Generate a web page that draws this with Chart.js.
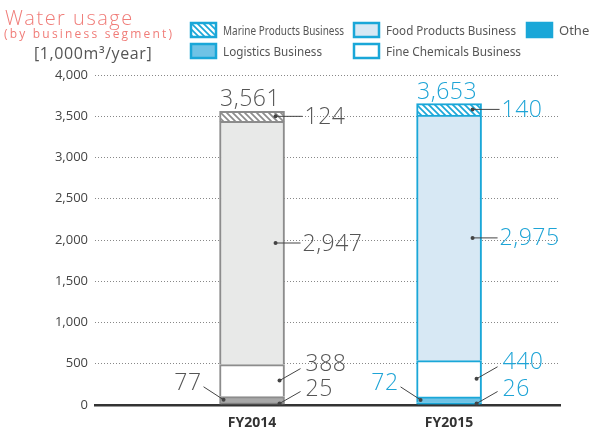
<!DOCTYPE html>
<html>
<head>
<meta charset="utf-8">
<script src="https://cdn.jsdelivr.net/npm/chart.js@4.4.1/dist/chart.umd.min.js"></script>
<style>
  html, body { margin: 0; padding: 0; background: #fff; }
  #wrap { position: relative; width: 589px; height: 432px; }
</style>
</head>
<body>
<div id="wrap"><canvas id="grafico" width="589" height="432"></canvas></div>
<script>
// data
const anos = ['FY2014', 'FY2015'];
const segmentos = ['Others', 'Logistics Business', 'Fine Chemicals Business', 'Food Products Business', 'Marine Products Business'];
const others = [25, 26];
const logistics = [77, 72];
const fineChem = [388, 440];
const food = [2947, 2975];
const marine = [124, 140];
const totais = [3561, 3653];
const yTicks = [0, 500, 1000, 1500, 2000, 2500, 3000, 3500, 4000];

const cinza = '#8c8c8c';
const azul = '#1aa7d8';
const txtCinza = '#555555';
const txtAzul = '#1ea4d6';
const fonte = '"Noto Sans", sans-serif';
const fonteNum = '"Open Sans", "Noto Sans", sans-serif';

function hachura(cor) {
    const c = document.createElement('canvas');
    c.width = 6; c.height = 6;
    const g = c.getContext('2d');
    g.fillStyle = '#fff';
    g.fillRect(0, 0, 6, 6);
    g.strokeStyle = cor;
    g.lineWidth = 1.7;
    g.beginPath();
    g.moveTo(0, 0); g.lineTo(6, 6);
    g.moveTo(-3, 3); g.lineTo(3, 9);
    g.moveTo(3, -3); g.lineTo(9, 3);
    g.stroke();
    return document.getElementById('grafico').getContext('2d').createPattern(c, 'repeat');
}

const pts = arr => arr.map((v, i) => ({ x: i, y: v }));

const datasets = [
    { label: segmentos[0], data: pts(others), backgroundColor: ['#777777', '#1aa7d8'] },
    { label: segmentos[1], data: pts(logistics), backgroundColor: ['#a8a8a8', '#6fc3e6'] },
    { label: segmentos[2], data: pts(fineChem), backgroundColor: ['#ffffff', '#ffffff'] },
    { label: segmentos[3], data: pts(food), backgroundColor: ['#e8e9e8', '#d7e8f4'] },
    { label: segmentos[4], data: pts(marine), backgroundColor: [hachura(cinza), hachura(azul)] }
].map(d => Object.assign(d, {
    borderColor: [cinza, azul],
    borderWidth: 2,
    borderSkipped: 'start',
    barThickness: 65
}));

function dot(g, x, y) {
    g.beginPath();
    g.arc(x, y, 2, 0, Math.PI * 2);
    g.fill();
}

const anotacoes = {
    id: 'anotacoes',
    afterDraw(chart) {
        const g = chart.ctx;
        g.save();
        // titulo
        g.fillStyle = '#f07c78';
        g.textBaseline = 'alphabetic';
        g.textAlign = 'left';
        g.letterSpacing = '1.5px';
        g.font = '300 20px ' + fonteNum;
        g.fillText('Water usage', 5, 25);
        g.letterSpacing = '2.2px';
        g.font = '12px ' + fonteNum;
        g.fillText('(by business segment)', 4, 38);
        g.letterSpacing = '0.6px';
        g.fillStyle = txtCinza;
        g.font = '16px ' + fonteNum;
        g.fillText('[1,000m\u00b3/year]', 34, 59);
        g.letterSpacing = '0px';

        // legenda
        const leg = [
            [190, 22, 4, 'Marine Products Business', 121],
            [353, 22, 3, 'Food Products Business', 130],
            [526, 22, 0, 'Others', undefined],
            [190, 43, 1, 'Logistics Business', 99],
            [353, 43, 2, 'Fine Chemicals Business', 135]
        ];
        leg.forEach(([x, y, k, t, w]) => {
            const bg = datasets[k].backgroundColor[1];
            g.fillStyle = bg;
            g.fillRect(x, y, 27, 16);
            g.strokeStyle = azul;
            g.lineWidth = 2.5;
            g.strokeRect(x + 1, y + 1, 25, 14);
            g.fillStyle = txtCinza;
            g.font = '13px ' + fonte;
            g.textBaseline = 'middle';
            if (w) g.fillText(t, x + 33, y + 9, w);
            else g.fillText(t, x + 33, y + 9);
        });

        // rotulos de valores
        const seg = (d, i) => chart.getDatasetMeta(d).data[i];
        anos.forEach((a, i) => {
            const cor = i === 0 ? txtCinza : txtAzul;
            const m = seg(4, i), f = seg(3, i), fc = seg(2, i), lg = seg(1, i), ot = seg(0, i);
            const L = m.x - m.width / 2, R = m.x + m.width / 2;
            g.fillStyle = cor;
            g.strokeStyle = '#444';
            g.lineWidth = 1;
            g.font = '300 23px ' + fonteNum;
            g.letterSpacing = '0.5px';
            g.textBaseline = 'alphabetic';
            g.textAlign = 'center';
            g.fillText(totais[i].toLocaleString('en-US'), m.x - 2, m.y - 5);

            g.textAlign = 'left';
            g.textBaseline = 'middle';
            let my = (m.y + m.base) / 2;
            g.beginPath(); g.moveTo(R - 9, my); g.lineTo(R + 18, my); g.stroke();
            g.fillStyle = '#444'; dot(g, R - 9, my);
            g.fillStyle = cor; g.fillText(marine[i], R + 20, my + 1);

            my = (f.y + f.base) / 2;
            g.beginPath(); g.moveTo(R - 9, my); g.lineTo(R + 16, my); g.stroke();
            g.fillStyle = '#444'; dot(g, R - 9, my);
            g.fillStyle = cor; g.fillText(food[i].toLocaleString('en-US'), R + 18, my + 1);

            my = (fc.y + fc.base) / 2;
            g.beginPath(); g.moveTo(R - 5, my); g.lineTo(R + 16, my - 12); g.stroke();
            g.fillStyle = '#444'; dot(g, R - 5, my);
            g.fillStyle = cor; g.fillText(fineChem[i], R + 21, my - 16);

            my = ot.base - 1;
            g.beginPath(); g.moveTo(R - 5, my); g.lineTo(R + 16, my - 12); g.stroke();
            g.fillStyle = '#444'; dot(g, R - 5, my);
            g.fillStyle = cor; g.fillText(others[i], R + 21, my - 14);

            my = (lg.y + lg.base) / 2;
            g.beginPath(); g.moveTo(L + 4, my); g.lineTo(L - 16, my - 13); g.stroke();
            g.fillStyle = '#444'; dot(g, L + 4, my);
            g.fillStyle = cor; g.textAlign = 'right';
            g.fillText(logistics[i], L - 18, my - 16);
        });
        g.restore();
    }
};

new Chart(document.getElementById('grafico'), {
    type: 'bar',
    data: { datasets: datasets },
    plugins: [anotacoes],
    options: {
        responsive: false,
        animation: false,
        layout: { padding: { top: 75, right: 29, left: 0, bottom: 0 } },
        plugins: { legend: { display: false }, tooltip: { enabled: false } },
        scales: {
            x: {
                type: 'linear',
                stacked: true,
                offset: false,
                min: -0.797,
                max: 1.563,
                afterFit: s => { s.height = 27; },
                afterBuildTicks: s => { s.ticks = anos.map((a, i) => ({ value: i })); },
                ticks: {
                    callback: v => anos[v] || '',
                    color: '#333',
                    font: { family: fonteNum, size: 14, weight: 'bold' },
                    padding: 2,
                    maxRotation: 0
                },
                grid: { display: false },
                border: { display: true, color: '#333', width: 2.5 }
            },
            y: {
                stacked: true,
                min: 0,
                max: 4000,
                afterFit: s => { s.width = 95; },
                afterBuildTicks: s => { s.ticks = yTicks.map(v => ({ value: v })); },
                ticks: {
                    callback: v => v.toLocaleString('en-US'),
                    color: '#444',
                    font: { family: fonteNum, size: 13 },
                    padding: 7
                },
                grid: {
                    color: c => c.tick.value === 0 ? 'rgba(0,0,0,0)' : '#888',
                    lineWidth: 1,
                    drawTicks: false
                },
                border: { display: false, dash: [1, 2] }
            }
        }
    }
});
</script>
</body>
</html>
